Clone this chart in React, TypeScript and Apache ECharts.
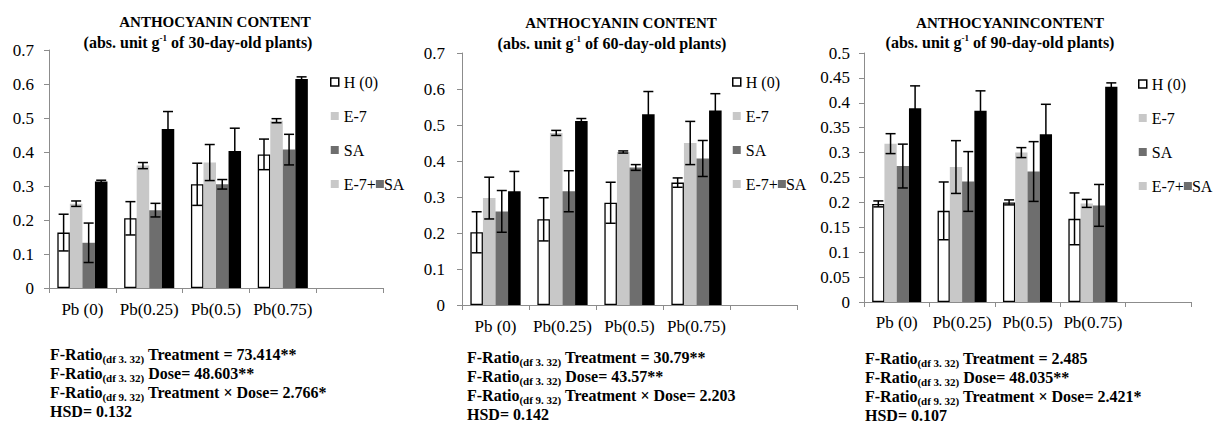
import React, { useEffect, useRef } from "react";
import * as echarts from "echarts";

const categories = ["Pb (0)", "Pb(0.25)", "Pb(0.5)", "Pb(0.75)", ""];
const seriesNames = ["H (0)", "E-7", "SA", "E-7+SA"];

// 30-day-old plants
const p1H = [0.163, 0.205, 0.305, 0.393];
const p1HErr = [0.054, 0.049, 0.062, 0.045];
const p1E7 = [0.248, 0.36, 0.369, 0.492];
const p1E7Err = [0.008, 0.009, 0.053, 0.006];
const p1SA = [0.133, 0.229, 0.305, 0.407];
const p1SAErr = [0.058, 0.02, 0.014, 0.045];
const p1E7SA = [0.313, 0.468, 0.403, 0.615];
const p1E7SAErr = [0.004, 0.051, 0.067, 0.006];

// 60-day-old plants
const p2H = [0.202, 0.238, 0.284, 0.34];
const p2HErr = [0.057, 0.06, 0.057, 0.013];
const p2E7 = [0.297, 0.478, 0.425, 0.45];
const p2E7Err = [0.058, 0.007, 0.003, 0.06];
const p2SA = [0.26, 0.316, 0.382, 0.407];
const p2SAErr = [0.058, 0.057, 0.008, 0.05];
const p2E7SA = [0.316, 0.511, 0.53, 0.54];
const p2E7SAErr = [0.055, 0.007, 0.063, 0.047];

// 90-day-old plants
const p3H = [0.197, 0.183, 0.2, 0.167];
const p3HErr = [0.006, 0.058, 0.005, 0.052];
const p3E7 = [0.318, 0.271, 0.3, 0.198];
const p3E7Err = [0.02, 0.053, 0.01, 0.008];
const p3SA = [0.273, 0.242, 0.262, 0.194];
const p3SAErr = [0.044, 0.06, 0.06, 0.042];
const p3E7SA = [0.389, 0.384, 0.337, 0.432];
const p3E7SAErr = [0.045, 0.04, 0.06, 0.008];

const yMax = [0.7, 0.7, 0.5];
const yInterval = [0.1, 0.1, 0.05];

const titleLine1 = ["ANTHOCYANIN CONTENT", "ANTHOCYANIN CONTENT", "ANTHOCYANINCONTENT"];
const titleAge = ["30", "60", "90"];

const statsTreatment = ["73.414**", "30.79**", "2.485"];
const statsDose = ["48.603**", "43.57**", "48.035**"];
const statsInteraction = ["2.766*", "2.203", "2.421*"];
const statsHSD = ["0.132", "0.142", "0.107"];

const FONT = "Liberation Serif, DejaVu Serif, serif";
const COLORS = ["#ffffff", "#c8c8c8", "#6e6e6e", "#000000"];
const AXIS_GRAY = "#8c8c8c";

const panels = [
  { vals: [p1H, p1E7, p1SA, p1E7SA], errs: [p1HErr, p1E7Err, p1SAErr, p1E7SAErr] },
  { vals: [p2H, p2E7, p2SA, p2E7SA], errs: [p2HErr, p2E7Err, p2SAErr, p2E7SAErr] },
  { vals: [p3H, p3E7, p3SA, p3E7SA], errs: [p3HErr, p3E7Err, p3SAErr, p3E7SAErr] },
];

// layout
const grids = [
  { left: 49, top: 50, width: 334, height: 238 },
  { left: 462, top: 53, width: 335, height: 252 },
  { left: 864, top: 53, width: 327, height: 249 },
];
const legendPos = [
  { left: 325, top: 69 },
  { left: 727, top: 69 },
  { left: 1133, top: 71 },
];
const titlePos = [
  { c1: 215, c2: 198, y1: 22, y2: 42 },
  { c1: 621, c2: 612, y1: 23, y2: 43 },
  { c1: 1010, c2: 1000, y1: 23, y2: 42 },
];
const statsPos = [
  { x: 50, y: 345 },
  { x: 467, y: 348 },
  { x: 865, y: 349 },
];
const yLabelMargin = [15, 17, 14];
const xLabelMargin = [13, 13, 12];

export default function App() {
  const ref = useRef<HTMLDivElement>(null);
  useEffect(() => {
    document.body.style.margin = "0";
    if (!ref.current) return;
    const chart = echarts.init(ref.current, null, { renderer: "svg" });

    const series: any[] = [];
    panels.forEach((p, pi) => {
      p.vals.forEach((vals, si) => {
        series.push({
          type: "bar",
          name: seriesNames[si],
          xAxisIndex: pi,
          yAxisIndex: pi,
          data: vals,
          barGap: "0%",
          barCategoryGap: "25%",
          itemStyle: {
            color: COLORS[si],
            borderColor: si === 0 ? "#000" : COLORS[si],
            borderWidth: si === 0 ? 1.3 : 0,
          },
          emphasis: { disabled: true },
        });
      });
      p.vals.forEach((vals, si) => {
        const errs = p.errs[si];
        series.push({
          type: "custom",
          xAxisIndex: pi,
          yAxisIndex: pi,
          z: 10,
          data: vals.map((v, i) => [i, v, errs[i]]),
          encode: { x: 0, y: 1 },
          renderItem: (params: any, api: any) => {
            const ci = api.value(0);
            const v = api.value(1);
            const e = api.value(2);
            const band = api.size([1, 0])[0];
            const bw = (band * 0.75) / 4;
            const cx = api.coord([ci, v])[0] + (si - 1.5) * bw;
            const top = api.coord([ci, v + e])[1];
            const bot = api.coord([ci, v - e])[1];
            const hw = 5;
            const st = { stroke: "#000", lineWidth: 1.5 };
            return {
              type: "group",
              children: [
                { type: "line", shape: { x1: cx, y1: top, x2: cx, y2: bot }, style: st },
                { type: "line", shape: { x1: cx - hw, y1: top, x2: cx + hw, y2: top }, style: st },
                { type: "line", shape: { x1: cx - hw, y1: bot, x2: cx + hw, y2: bot }, style: st },
              ],
            };
          },
        });
      });
    });

    const graphic: any[] = [];
    titlePos.forEach((t, i) => {
      graphic.push({
        type: "text",
        x: t.c1,
        y: t.y1,
        style: {
          text: titleLine1[i],
          fontFamily: FONT,
          fontWeight: "bold",
          fontSize: 15,
          fill: "#000",
          align: "center",
          verticalAlign: "middle",
        },
      });
      graphic.push({
        type: "text",
        x: t.c2,
        y: t.y2,
        style: {
          text: `{t|(abs. unit g}{sup|-1}{t| of ${titleAge[i]}-day-old plants)}`,
          align: "center",
          verticalAlign: "middle",
          rich: {
            t: { fontFamily: FONT, fontWeight: "bold", fontSize: 16, lineHeight: 18, fill: "#000" },
            sup: { fontFamily: FONT, fontWeight: "bold", fontSize: 9, lineHeight: 9, verticalAlign: "top", fill: "#000" },
          },
        },
      });
    });
    statsPos.forEach((s, i) => {
      const lines = [
        `{b|F-Ratio}{s|(df 3. 32)}{b| Treatment = ${statsTreatment[i]}}`,
        `{b|F-Ratio}{s|(df 3. 32)}{b| Dose= ${statsDose[i]}}`,
        `{b|F-Ratio}{s|(df 9. 32)}{b| Treatment × Dose= ${statsInteraction[i]}}`,
        `{b|HSD= ${statsHSD[i]}}`,
      ];
      graphic.push({
        type: "text",
        x: s.x,
        y: s.y,
        style: {
          text: lines.join("\n"),
          align: "left",
          verticalAlign: "top",
          rich: {
            b: { fontFamily: FONT, fontWeight: "bold", fontSize: 16, lineHeight: 19, fill: "#000" },
            s: { fontFamily: FONT, fontWeight: "bold", fontSize: 11, lineHeight: 10, verticalAlign: "bottom", fill: "#000" },
          },
        },
      });
    });

    const option: any = {
      animation: false,
      textStyle: { fontFamily: FONT },
      grid: grids.map((g) => ({ ...g, containLabel: false })),
      xAxis: grids.map((_, i) => ({
        type: "category",
        gridIndex: i,
        data: categories,
        axisLine: { lineStyle: { color: AXIS_GRAY, width: 1 } },
        axisTick: { show: true, length: 5, lineStyle: { color: AXIS_GRAY } },
        axisLabel: { color: "#000", fontFamily: FONT, fontSize: 17, margin: xLabelMargin[i], interval: 0 },
      })),
      yAxis: grids.map((_, i) => ({
        type: "value",
        gridIndex: i,
        min: 0,
        max: yMax[i],
        interval: yInterval[i],
        splitLine: { show: false },
        axisLine: { show: true, lineStyle: { color: AXIS_GRAY, width: 1 } },
        axisTick: { show: true, length: 5, lineStyle: { color: AXIS_GRAY } },
        axisLabel: {
          color: "#000",
          fontFamily: FONT,
          fontSize: 17,
          margin: yLabelMargin[i],
          formatter: (v: number) => String(parseFloat(v.toFixed(2))),
        },
      })),
      legend: legendPos.map((lp) => ({
        orient: "vertical",
        left: lp.left,
        top: lp.top,
        itemWidth: 8,
        itemHeight: 8,
        itemGap: 18,
        icon: "rect",
        selectedMode: false,
        data: [
          { name: "H (0)", itemStyle: { color: "#fff", borderColor: "#000", borderWidth: 1.5 } },
          { name: "E-7", itemStyle: { color: COLORS[1], borderWidth: 0 } },
          { name: "SA", itemStyle: { color: COLORS[2], borderWidth: 0 } },
          { name: "E-7+SA", itemStyle: { color: COLORS[1], borderWidth: 0 } },
        ],
        formatter: (name: string) => (name === "E-7+SA" ? "E-7+{sq| }SA" : name),
        textStyle: {
          color: "#000",
          fontFamily: FONT,
          fontSize: 16,
          rich: {
            sq: { width: 8, height: 8, backgroundColor: COLORS[2], fontSize: 8 },
          },
        },
      })),
      graphic,
      series,
    };
    chart.setOption(option);
    return () => chart.dispose();
  }, []);
  return <div ref={ref} style={{ width: 1216, height: 433 }} />;
}
